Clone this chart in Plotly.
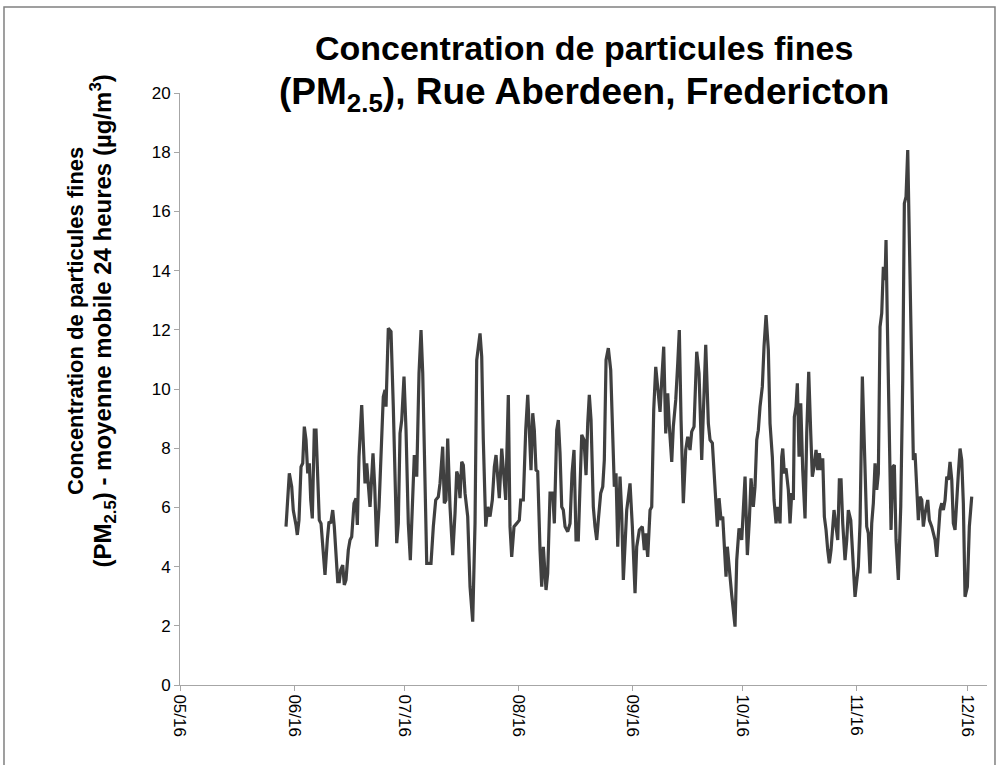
import pandas as pd
import plotly.graph_objects as go

# Data: 24h moving average PM2.5 (µg/m³)
days_since_may1 = [
    28.82, 29.72, 30.37, 30.80, 31.54, 31.89, 32.35, 32.90, 33.36, 33.80, 34.26, 34.72, 35.16, 35.54,
    35.97, 36.51, 36.98, 37.44, 37.87, 38.34, 38.80, 39.42, 40.05, 40.51, 40.97, 41.52, 41.95, 42.41,
    42.88, 43.31, 43.69, 44.24, 44.67, 45.13, 45.76, 46.22, 46.68, 47.31, 47.85, 48.21, 48.67, 49.40,
    49.84, 50.30, 50.76, 51.20, 51.66, 52.12, 52.47, 52.94, 53.48, 54.11, 54.65, 55.27, 55.74, 56.01,
    56.63, 57.37, 57.99, 58.92, 59.35, 59.82, 60.28, 60.90, 61.45, 62.07, 62.62, 63.16, 63.70, 64.36,
    64.98, 65.53, 65.99, 67.08, 68.24, 68.87, 69.52, 70.23, 70.69, 71.42, 71.86, 72.32, 72.78, 73.41,
    74.14, 74.77, 75.23, 75.67, 76.13, 76.59, 77.03, 77.49, 78.22, 78.85, 79.58, 80.21, 80.67, 81.57,
    82.03, 82.46, 83.12, 83.66, 84.29, 84.91, 85.46, 85.92, 86.38, 86.81, 87.47, 87.90, 88.56, 89.26,
    89.72, 90.18, 90.81, 91.55, 92.25, 92.63, 93.34, 93.99, 94.54, 94.97, 95.43, 95.90, 96.33, 96.79,
    97.25, 97.88, 98.34, 98.78, 99.51, 99.97, 100.60, 101.33, 101.77, 102.42, 102.86, 103.32, 103.78,
    104.21, 104.68, 105.41, 106.04, 106.58, 107.12, 107.67, 108.29, 108.75, 109.22, 109.84, 110.39,
    110.85, 111.28, 111.75, 112.37, 112.83, 113.30, 113.73, 114.38, 114.93, 115.36, 115.83, 116.45,
    117.10, 117.65, 118.08, 118.54, 119.01, 119.63, 120.09, 120.53, 121.45, 122.35, 122.98, 123.71,
    124.17, 124.88, 125.69, 126.24, 126.62, 127.16, 127.79, 128.25, 128.79, 129.34, 130.04, 130.51,
    130.97, 131.51, 132.06, 132.60, 133.04, 133.69, 134.12, 134.78, 135.32, 135.75, 136.22, 136.84,
    137.49, 138.04, 138.66, 139.12, 139.75, 140.48, 141.11, 141.84, 142.28, 142.93, 143.64, 144.10,
    144.73, 145.11, 145.65, 146.09, 146.55, 147.10, 147.55, 147.99, 148.45, 148.80, 149.35, 150.00,
    150.90, 151.36, 151.98, 152.72, 153.62, 154.25, 154.79, 155.25, 155.87, 156.33, 156.80, 157.23,
    157.69, 158.32, 158.78, 159.33, 159.95, 160.41, 161.04, 161.50, 162.05, 162.51, 163.13, 163.59,
    163.87, 164.30, 164.76, 165.39, 165.85, 166.31, 166.75, 167.02, 167.48, 167.84, 168.30, 168.76,
    169.30, 169.93, 170.39, 170.93, 171.48, 171.91, 172.38, 172.92, 173.38, 173.82, 174.28, 174.74,
    175.18, 175.64, 176.10, 176.54, 177.00, 177.46, 177.81, 178.36, 178.82, 179.26, 179.72, 180.18,
    180.80, 181.27, 181.70, 182.36, 183.06, 183.52, 184.42, 184.88, 185.51, 186.05, 186.70, 187.14,
    187.60, 188.06, 188.50, 188.96, 189.42, 189.86, 190.32, 190.78, 191.22, 191.68, 191.95, 192.31,
    192.77, 193.31, 193.78, 194.21, 194.67, 195.30, 195.95, 196.49, 196.93, 197.39, 197.85, 198.21,
    198.75, 199.38, 199.84, 200.30, 200.73, 201.20, 201.66, 202.09, 202.56, 203.29, 203.72, 204.38,
    204.81, 205.28, 205.74, 206.17, 206.63, 207.10, 207.53, 208.00, 208.46, 208.89, 209.35, 209.82,
    210.25, 210.71, 211.18, 211.61, 212.07, 212.53, 212.97, 213.43, 214.06, 214.60, 215.25,
]
pm25 = [
    5.35, 7.15, 6.70, 5.90, 5.40, 5.07, 5.57, 7.37, 7.49, 8.73, 8.28, 7.15, 7.49, 6.25,
    5.63, 8.61, 8.61, 7.26, 5.57, 5.46, 4.56, 3.72, 4.90, 5.52, 5.46, 5.91, 5.35, 4.22,
    3.49, 3.49, 3.89, 4.05, 3.38, 3.55, 4.56, 4.90, 5.01, 6.14, 6.31, 5.41, 7.71, 9.46,
    7.83, 6.81, 7.49, 6.70, 6.02, 7.04, 7.83, 6.70, 4.67, 6.02, 7.60, 9.74, 9.97, 9.40,
    12.05, 11.94, 9.40, 4.79, 5.46, 8.50, 8.95, 10.42, 8.61, 5.46, 4.22, 6.02, 7.77, 7.04,
    10.53, 11.99, 10.53, 4.11, 4.11, 5.35, 6.25, 6.36, 6.81, 8.05, 6.14, 6.25, 8.33, 6.02,
    4.39, 5.80, 7.21, 7.04, 6.31, 7.54, 7.43, 6.48, 5.69, 3.32, 2.14, 5.46, 10.98, 11.88,
    11.09, 8.28, 5.35, 6.02, 5.69, 6.25, 7.37, 7.77, 7.15, 6.31, 7.99, 7.15, 6.25, 9.80,
    5.35, 4.33, 5.35, 5.46, 5.57, 6.25, 6.25, 8.61, 9.80, 8.61, 7.26, 9.18, 8.61, 7.26,
    7.21, 4.56, 3.32, 4.67, 3.21, 3.77, 6.48, 6.48, 5.46, 8.61, 8.95, 7.83, 6.02,
    5.91, 5.35, 5.18, 5.46, 7.15, 7.94, 4.90, 4.90, 6.70, 8.45, 8.28, 7.09, 8.84,
    9.80, 8.95, 6.02, 5.35, 4.90, 5.57, 6.48, 6.70, 7.60, 10.98, 11.38,
    10.64, 8.28, 6.70, 7.15, 4.67, 7.04, 5.80, 3.55, 5.91, 6.81, 5.35, 3.10,
    4.67, 5.24, 5.35, 4.56, 5.12, 4.33, 5.91, 6.02, 9.29, 10.75, 9.85, 9.23,
    10.30, 11.43, 8.50, 9.85, 8.73, 7.54, 8.73, 9.63, 10.87, 11.99, 8.95, 6.14,
    7.94, 8.39, 7.94, 8.56, 8.73, 11.26, 10.53, 7.60, 9.18, 11.49, 8.84, 8.28,
    8.17, 7.37, 6.36, 5.35, 6.31, 5.57, 5.69, 4.67, 3.66, 4.67, 3.77, 3.04,
    1.97, 4.22, 5.29, 4.90, 7.04, 4.39, 5.57, 6.98, 6.02, 6.70, 8.28, 8.61,
    9.40, 10.08, 11.43, 12.50, 11.32, 8.84, 7.71, 6.25, 5.46, 6.02, 5.46, 7.71,
    7.99, 7.15, 7.32, 6.59, 5.46, 6.48, 6.25, 9.06, 9.40, 10.19, 7.71, 9.52,
    7.26, 5.63, 8.50, 10.58, 8.50, 7.04, 7.37, 7.94, 7.26, 7.83, 7.26, 7.66,
    5.69, 5.24, 4.56, 4.11, 4.56, 5.57, 5.91, 5.35, 4.90, 6.93, 6.93, 5.46,
    4.22, 4.90, 5.91, 5.57, 4.22, 2.98, 4.00, 5.46, 10.42, 8.28, 5.35, 5.12,
    3.77, 5.46, 6.14, 7.49, 6.59, 7.15, 12.10, 12.56, 14.13, 13.68, 15.03, 12.22,
    8.28, 5.24, 7.37, 7.43, 4.90, 3.55, 6.02, 10.30, 16.27, 16.50, 18.07, 15.26,
    11.66, 7.60, 7.83, 6.81, 5.57, 6.36, 6.25, 5.35, 5.80, 6.25, 5.57, 5.35,
    5.12, 4.90, 4.33, 5.12, 5.91, 6.14, 5.91, 6.25, 7.04, 6.93, 7.54, 6.93,
    5.46, 5.24, 6.48, 7.15, 7.99, 7.60, 6.14, 2.98, 3.32, 5.35, 6.36,
]
month_ticks = ["2016-05-01", "2016-06-01", "2016-07-01", "2016-08-01",
               "2016-09-01", "2016-10-01", "2016-11-01", "2016-12-01"]
month_labels = ["05/16", "06/16", "07/16", "08/16", "09/16", "10/16", "11/16", "12/16"]

base = pd.Timestamp("2016-05-01")
dates = [base + pd.Timedelta(days=d) for d in days_since_may1]

FONT = "Liberation Sans, Arial, sans-serif"
AXIS_GRAY = "#a6a6a6"

fig = go.Figure()
fig.add_trace(go.Scatter(
    x=dates, y=pm25, mode="lines",
    line=dict(color="#404040", width=3.2),
    showlegend=False, hoverinfo="skip",
))

fig.update_layout(
    width=1001, height=765,
    margin=dict(l=180, r=14, t=93, b=80, autoexpand=False),
    paper_bgcolor="white", plot_bgcolor="white",
    font=dict(family=FONT, color="black"),
    xaxis=dict(
        range=[base, base + pd.Timedelta(days=219.4)],
        tickvals=month_ticks, ticktext=month_labels,
        tickangle=90, tickfont=dict(size=17, family=FONT, color="black"),
        showgrid=False, zeroline=False,
        showline=True, linecolor=AXIS_GRAY, linewidth=1,
        ticks="outside", ticklen=5, tickcolor=AXIS_GRAY,
    ),
    yaxis=dict(
        range=[0, 20], dtick=2, tick0=0,
        tickfont=dict(size=17, family=FONT, color="black"),
        showgrid=False, zeroline=False,
        showline=True, linecolor=AXIS_GRAY, linewidth=1,
        ticks="outside", ticklen=5, tickcolor=AXIS_GRAY,
    ),
)

# Chart title
fig.add_annotation(
    text=("<b>Concentration de particules fines<br>"
          "<span style='font-size:37px'>(PM<sub>2.5</sub>), Rue Aberdeen, Fredericton</span></b>"),
    xref="paper", yref="paper", x=0.5, y=1.034,
    xanchor="center", yanchor="middle", showarrow=False,
    font=dict(size=34, family=FONT, color="black"),
)
# Y axis title
fig.add_annotation(
    text=("<b>Concentration de particules fines<br>"
          "<span style='font-size:24px'>(PM<sub>2.5</sub>) - moyenne mobile 24 heures (µg/m<sup>3</sup>)</span></b>"),
    xref="paper", yref="paper", x=-0.1095, y=0.615,
    xanchor="center", yanchor="middle", textangle=-90, showarrow=False,
    font=dict(size=22, family=FONT, color="black"),
)
# Chart-area border
fig.add_shape(
    type="rect", xref="paper", yref="paper",
    x0=-0.2181, x1=1.0099, y0=-0.2, y1=1.1453,
    line=dict(color="#808080", width=1.5), fillcolor="rgba(0,0,0,0)", layer="below",
)

fig.write_html("out.html", config={"displayModeBar": False},
               post_script="document.body.style.margin='0px';")
